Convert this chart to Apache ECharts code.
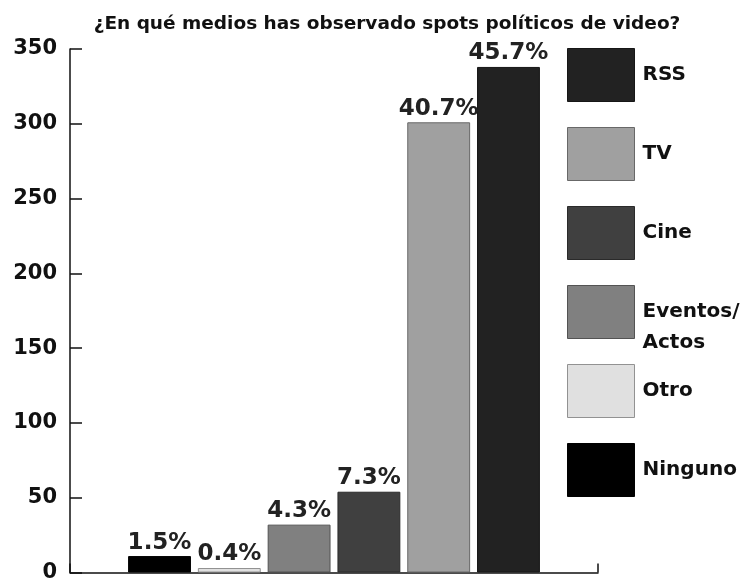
<!DOCTYPE html>
<html>
<head>
<meta charset="utf-8">
<script src="https://cdn.jsdelivr.net/npm/echarts@6/dist/echarts.min.js"></script>
<style>
  html, body { margin: 0; padding: 0; background: #fff; }
  #chart { width: 747px; height: 583px; }
</style>
</head>
<body>
<div id="chart"></div>
<script>
// Media where respondents saw political video spots (drawn left to right)
const mediaNames = ['Ninguno', 'Otro', 'Eventos/\nActos', 'Cine', 'TV', 'RSS'];
const respondentCounts = [11, 3, 32, 54, 301, 338];
const shareLabels = ['1.5%', '0.4%', '4.3%', '7.3%', '40.7%', '45.7%'];
const mediaColors = ['#000000', '#e0e0e0', '#808080', '#404040', '#a0a0a0', '#222222'];
const yTicks = [0, 50, 100, 150, 200, 250, 300, 350];

const FONT = '"DejaVu Sans"';
const LEGEND_LINE = 31;

// Outline each bar with a darker shade of its fill.
function darken(hex, factor) {
  const rgb = echarts.color.parse(hex);
  return echarts.color.stringify(rgb.slice(0, 3).map(c => Math.round(c * factor)).concat(1), 'rgb');
}

const series = mediaNames.map((name, i) => ({
  name: name,
  type: 'bar',
  data: [respondentCounts[i]],
  barGap: '11%',
  barCategoryGap: '22%',
  itemStyle: {
    color: mediaColors[i],
    borderColor: darken(mediaColors[i], 0.65),
    borderWidth: 1
  },
  label: {
    show: true,
    position: 'top',
    distance: 2,
    formatter: () => shareLabels[i],
    color: '#222',
    fontFamily: FONT,
    fontWeight: 'bold',
    fontSize: 23
  }
}));

// Legend runs from the largest medium down. A two-line entry keeps its
// first line level with its swatch (top padding of one line shifts the block).
const legendOrder = mediaNames.slice().reverse();
const legendItems = legendOrder.map(name =>
  name.indexOf('\n') >= 0
    ? { name: name, textStyle: { padding: [LEGEND_LINE, 0, 0, 3] } }
    : { name: name }
);

const legendText = {
  fontFamily: FONT, fontWeight: 'bold', fontSize: 20, color: '#111',
  padding: [0, 0, 0, 3],
  rich: {
    l: { fontFamily: FONT, fontWeight: 'bold', fontSize: 20, color: '#111', lineHeight: LEGEND_LINE }
  }
};

function legendBlock(items, top) {
  return {
    orient: 'vertical',
    left: 567,
    top: top,
    padding: 0,
    itemWidth: 67,
    itemHeight: 53,
    itemGap: 25,
    icon: 'rect',
    data: items,
    itemStyle: { borderWidth: 1 },
    formatter: name => name.split('\n').map(s => '{l|' + s + '}').join('\n'),
    textStyle: legendText
  };
}

const chart = echarts.init(document.getElementById('chart'));
chart.setOption({
  animation: false,
  title: {
    text: '¿En qué medios has observado spots políticos de video?',
    left: 387,
    textAlign: 'center',
    top: 15,
    padding: 0,
    textStyle: { fontFamily: FONT, fontWeight: 'bold', fontSize: 18.5, color: '#111' }
  },
  legend: [
    legendBlock(legendItems.slice(0, 4), 48),
    legendBlock(legendItems.slice(4), 364)
  ],
  grid: { left: 70, right: 149, top: 49, bottom: 9, containLabel: false },
  xAxis: {
    type: 'category',
    data: [''],
    axisLine: { lineStyle: { color: '#111', width: 1.5 } },
    axisTick: { show: true, inside: true, length: 9, lineStyle: { color: '#111', width: 1.5 } },
    axisLabel: { show: false }
  },
  yAxis: {
    type: 'value',
    min: yTicks[0],
    max: yTicks[yTicks.length - 1],
    interval: 50,
    splitLine: { show: false },
    axisLine: { show: true, lineStyle: { color: '#111', width: 1.5 } },
    axisTick: { show: true, inside: true, length: 12, lineStyle: { color: '#111', width: 1.5 } },
    axisLabel: { fontFamily: FONT, fontWeight: 'bold', fontSize: 21, color: '#111', margin: 13 }
  },
  series: series
});
</script>
</body>
</html>
